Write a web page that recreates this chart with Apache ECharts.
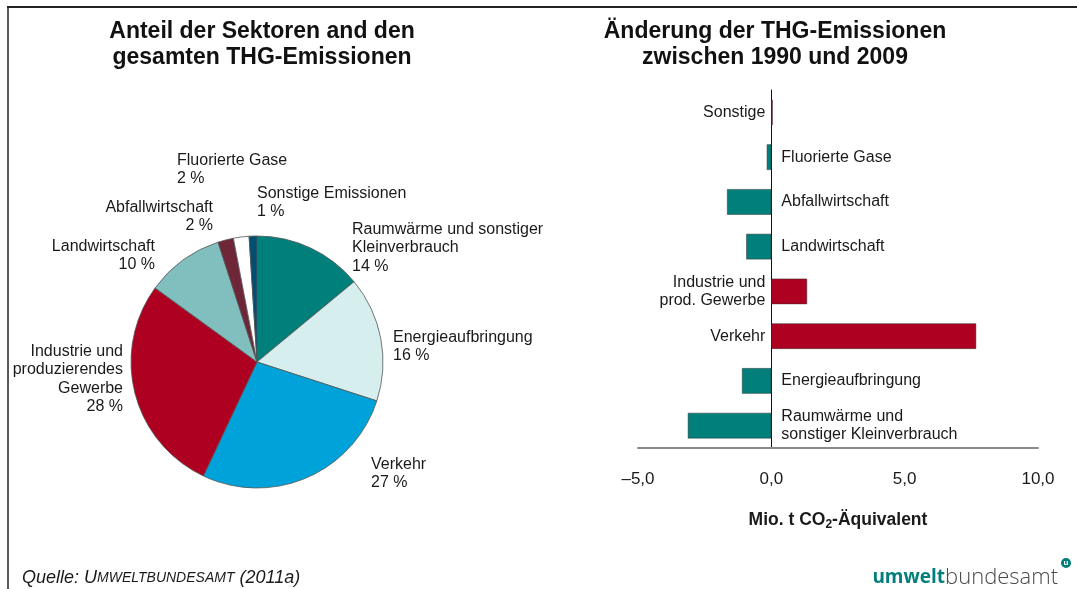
<!DOCTYPE html>
<html>
<head>
<meta charset="utf-8">
<script src="https://cdn.jsdelivr.net/npm/echarts@6/dist/echarts.min.js"></script>
<style>
html, body { margin: 0; padding: 0; background: #fff; }
#chart { width: 1077px; height: 589px; }
</style>
</head>
<body>
<div id="chart"></div>
<script>
// Anteil der Sektoren (Kreisdiagramm), im Uhrzeigersinn ab 12 Uhr
var pieNames = ['Raumwärme und sonstiger\nKleinverbrauch', 'Energieaufbringung', 'Verkehr',
	'Industrie und\nproduzierendes\nGewerbe', 'Landwirtschaft', 'Abfallwirtschaft',
	'Fluorierte Gase', 'Sonstige Emissionen'];
var pieValues = [14, 16, 27, 28, 10, 2, 2, 1];
var pieColors = ['#007f7b', '#d6eeee', '#00a3d9', '#ae0020', '#80bfbd', '#6e2638', '#ffffff', '#004f73'];

// Änderung 1990-2009 (Balken), von oben nach unten
var barNames = ['Sonstige', 'Fluorierte Gase', 'Abfallwirtschaft', 'Landwirtschaft',
	'Industrie und\nprod. Gewerbe', 'Verkehr', 'Energieaufbringung',
	'Raumwärme und\nsonstiger Kleinverbrauch'];
var barValues = [0.05, -0.17, -1.66, -0.94, 1.34, 7.68, -1.1, -3.13];
var xTicks = [-5, 0, 5, 10];

// Lage der Beschriftungen am Kreis
var pieLabelPos = [
	{ x: 352, y: 220, align: 'left' },
	{ x: 393, y: 328, align: 'left' },
	{ x: 371, y: 455, align: 'left' },
	{ x: 123, y: 342, align: 'right' },
	{ x: 155, y: 237, align: 'right' },
	{ x: 213, y: 198, align: 'right' },
	{ x: 177, y: 151, align: 'left' },
	{ x: 257, y: 184, align: 'left' }
];

var font = 'Liberation Sans, Arial, sans-serif';

var pieData = [];
for (var i = 0; i < pieValues.length; i++) {
	pieData.push({
		name: pieNames[i],
		value: pieValues[i],
		itemStyle: { color: pieColors[i] }
	});
}

var barData = [];
for (var j = 0; j < barValues.length; j++) {
	barData.push({
		value: barValues[j],
		itemStyle: { color: barValues[j] < 0 ? '#007f7b' : '#ae0020' },
		label: {
			position: barValues[j] < 0 ? 'right' : 'left',
			distance: barValues[j] < 0 ? 10 : 6
		}
	});
}

function fmtTick(v) {
	var s = Math.abs(v).toFixed(1).replace('.', ',');
	return (v < 0 ? '\u2013' : '') + s;
}

var echar = echarts.init(document.getElementById('chart'));
var option = {
	backgroundColor: '#fff',
	animation: false,
	textStyle: { fontFamily: font },
	grid: { left: 638, right: 39, top: 90, height: 358, containLabel: false },
	xAxis: {
		type: 'value',
		min: xTicks[0],
		max: xTicks[xTicks.length - 1],
		interval: 5,
		axisLine: { show: true, lineStyle: { color: '#8a8a8a', width: 2 } },
		axisTick: { show: false },
		splitLine: { show: false },
		axisLabel: {
			margin: 23,
			fontSize: 17,
			color: '#1a1a1a',
			fontFamily: font,
			formatter: fmtTick
		},
		name: '{a|Mio. t CO}{s|2}{a|-Äquivalent}',
		nameLocation: 'middle',
		nameGap: 61,
		nameTextStyle: {
			fontSize: 17.5, fontWeight: 'bold', color: '#1a1a1a', fontFamily: font,
			rich: {
				a: { fontSize: 17.5, fontWeight: 'bold', color: '#1a1a1a', fontFamily: font, lineHeight: 22 },
				s: { fontSize: 12, fontWeight: 'bold', color: '#1a1a1a', fontFamily: font,
					lineHeight: 12, verticalAlign: 'bottom' }
			}
		}
	},
	yAxis: {
		type: 'category',
		inverse: true,
		data: barNames,
		axisLine: { show: true, onZero: true, lineStyle: { color: '#111', width: 1 } },
		axisTick: { show: false },
		axisLabel: { show: false }
	},
	series: [
		{
			type: 'pie',
			center: [257, 362],
			radius: 126,
			startAngle: 90,
			clockwise: true,
			data: pieData,
			itemStyle: { borderColor: '#555', borderWidth: 0.8 },
			labelLine: { show: false },
			label: {
				show: true,
				formatter: '{b}\n{c} %',
				fontSize: 16,
				lineHeight: 18.5,
				color: '#1a1a1a',
				fontFamily: font,
				overflow: 'none',
				width: 400
			},
			labelLayout: function(params) {
				var p = pieLabelPos[params.dataIndex];
				return { x: p.x, y: p.y, align: p.align, verticalAlign: 'top' };
			}
		},
		{
			type: 'bar',
			data: barData,
			barWidth: 25.5,
			itemStyle: { borderColor: '#333', borderWidth: 0.5 },
			label: {
				show: true,
				fontSize: 16,
				lineHeight: 18.5,
				color: '#1a1a1a',
				fontFamily: font,
				formatter: function(p) { return barNames[p.dataIndex]; }
			}
		}
	],
	graphic: [
		// Rahmen
		{ type: 'line', shape: { x1: 7, y1: 7, x2: 1077, y2: 7 }, style: { stroke: '#222', lineWidth: 2 } },
		{ type: 'line', shape: { x1: 8, y1: 7, x2: 8, y2: 589 }, style: { stroke: '#222', lineWidth: 1.5 } },
		// Titel
		{
			type: 'text', x: 262, y: 45,
			style: {
				text: 'Anteil der Sektoren and den\ngesamten THG-Emissionen',
				align: 'center', verticalAlign: 'middle',
				font: 'bold 23px ' + font, lineHeight: 26, fill: '#111'
			}
		},
		{
			type: 'text', x: 775, y: 45,
			style: {
				text: 'Änderung der THG-Emissionen\nzwischen 1990 und 2009',
				align: 'center', verticalAlign: 'middle',
				font: 'bold 23px ' + font, lineHeight: 26, fill: '#111'
			}
		},
		// Quelle
		{
			type: 'text', x: 22, y: 578,
			style: {
				text: '{a|Quelle: U}{b|MWELTBUNDESAMT}{a| (2011a)}',
				verticalAlign: 'middle',
				rich: {
					a: { fontSize: 18, fontStyle: 'italic', fontFamily: font, fill: '#1a1a1a' },
					b: { fontSize: 14, fontStyle: 'italic', fontFamily: font, fill: '#1a1a1a' }
				}
			}
		},
		// Logo
		{
			type: 'text', x: 1058, y: 578,
			style: {
				text: '{u|umwelt}{b|bundesamt}',
				align: 'right', verticalAlign: 'middle',
				rich: {
					u: { fontSize: 19, fontWeight: 'bold', fontFamily: 'Open Sans, sans-serif', fill: '#007f7b' },
					b: { fontSize: 22, fontWeight: 300, fontFamily: 'Open Sans, sans-serif', fill: '#4a4a4a' }
				}
			}
		},
		{ type: 'circle', shape: { cx: 1066, cy: 563, r: 5 }, style: { fill: '#007f7b' } },
		{
			type: 'text', x: 1066, y: 563,
			style: { text: 'u', align: 'center', verticalAlign: 'middle', font: 'bold 8px ' + font, fill: '#fff' }
		}
	]
};
echar.setOption(option);
</script>
</body>
</html>
